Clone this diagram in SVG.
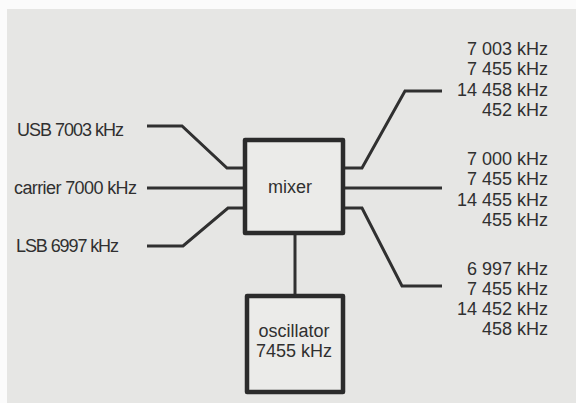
<svg xmlns="http://www.w3.org/2000/svg" width="576" height="403" viewBox="0 0 576 403">
  <style>
    .lbl { font-family: "Liberation Sans", Arial, sans-serif; font-size: 18px; fill: #303030; }
    .r { text-anchor: end; }
    .box { fill: #ebebe9; stroke: #2b2b2b; stroke-width: 4.5; stroke-linejoin: round; }
    .wire { fill: none; stroke: #303030; stroke-width: 3; stroke-linejoin: miter; }
  </style>
  <rect x="0" y="0" width="576" height="403" fill="#fbfbfb"/>
  <rect x="7" y="9" width="569" height="394" fill="#e6e6e4"/>

  <g id="connectors">
    <polyline class="wire" points="147,126 182,126 227,168 246,168"/>
    <polyline class="wire" points="147,188 246,188"/>
    <polyline class="wire" points="147,246 183,246 228,208 246,208"/>
    <polyline class="wire" points="343,168 362,168 405,91 442,91"/>
    <polyline class="wire" points="343,188 442,188"/>
    <polyline class="wire" points="343,208 362,208 402,286 442,286"/>
    <polyline class="wire" points="295,233 295,296"/>
  </g>

  <g id="mixer">
    <rect class="box" x="245" y="140" width="98" height="93"/>
    <text class="lbl" x="290" y="193" text-anchor="middle">mixer</text>
  </g>

  <g id="oscillator">
    <rect class="box" x="247" y="296" width="96" height="96"/>
    <text class="lbl" x="294" y="337" text-anchor="middle">oscillator</text>
    <text class="lbl" x="294" y="357" text-anchor="middle">7455 kHz</text>
  </g>

  <g id="input-usb">
    <text class="lbl" x="17" y="136" textLength="107">USB 7003 kHz</text>
  </g>
  <g id="input-carrier">
    <text class="lbl" x="14" y="194" textLength="123">carrier 7000 kHz</text>
  </g>
  <g id="input-lsb">
    <text class="lbl" x="16" y="252" textLength="103">LSB 6997 kHz</text>
  </g>

  <g id="output-usb">
    <text class="lbl r" x="548" y="55">7 003 kHz</text>
    <text class="lbl r" x="548" y="75">7 455 kHz</text>
    <text class="lbl r" x="548" y="96">14 458 kHz</text>
    <text class="lbl r" x="548" y="116">452 kHz</text>
  </g>
  <g id="output-carrier">
    <text class="lbl r" x="548" y="165">7 000 kHz</text>
    <text class="lbl r" x="548" y="185">7 455 kHz</text>
    <text class="lbl r" x="548" y="206">14 455 kHz</text>
    <text class="lbl r" x="548" y="226">455 kHz</text>
  </g>
  <g id="output-lsb">
    <text class="lbl r" x="548" y="275">6 997 kHz</text>
    <text class="lbl r" x="548" y="295">7 455 kHz</text>
    <text class="lbl r" x="548" y="315">14 452 kHz</text>
    <text class="lbl r" x="548" y="335">458 kHz</text>
  </g>
</svg>
